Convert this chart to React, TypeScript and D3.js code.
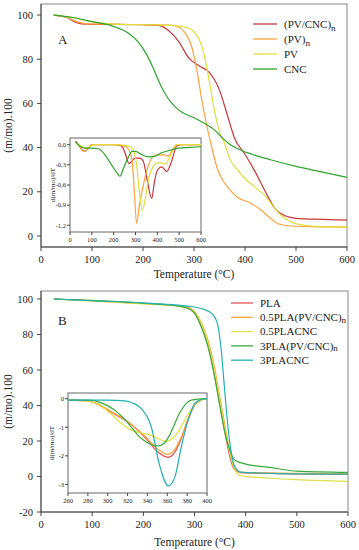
import * as d3 from "d3";

type P = [number, number];

// ---- Panel A: TG curves (temperature °C, residual mass %)
const tgA_PVCNC: P[] = [[25,100],[50,99],[65,97],[80,96],[100,95.8],[150,95.8],[200,95.6],[230,95.3],[250,93],[270,88],[290,80.5],[310,77],[330,74],[350,66],[365,55],[380,44],[400,37],[420,29],[440,20],[460,12],[480,9],[500,8],[550,7.5],[600,7.2]];
const tgA_PVn: P[] = [[25,100],[50,99],[70,97],[90,96],[150,95.8],[250,95.5],[270,94.5],[285,91],[295,86],[305,76],[315,62],[325,50],[335,40],[345,31],[357,25],[370,21],[385,17.5],[410,15],[430,12],[450,8],[465,5.5],[490,4.5],[550,4.1],[600,4]];
const tgA_PV: P[] = [[25,100],[60,99],[100,97],[150,95.8],[200,95.6],[260,95.3],[290,94],[300,92.5],[310,89],[320,82],[330,70],[340,57],[350,47],[360,42],[370,35],[385,30],[400,26],[420,22],[440,18],[455,13.5],[470,9.5],[485,7],[510,5],[550,4.2],[600,4]];
const tgA_CNC: P[] = [[25,100],[60,99],[100,97],[140,95],[170,92],[190,88],[205,83],[220,76],[235,68],[250,62],[265,58],[280,55.5],[300,53.5],[320,51],[340,48],[355,44.5],[370,41.5],[390,39],[420,36.5],[450,34.5],[500,31.5],[550,29],[600,26.5]];

// ---- Panel A inset: DTG
const dtgA_PVCNC: P[] = [[25,0.05],[45,-0.03],[65,-0.1],[85,-0.05],[100,0],[200,0],[237,-0.02],[255,-0.15],[270,-0.28],[285,-0.24],[298,-0.2],[320,-0.2],[336,-0.25],[355,-0.55],[374,-0.8],[387,-0.55],[400,-0.38],[420,-0.33],[443,-0.4],[465,-0.25],[489,-0.02],[520,0],[600,0]];
const dtgA_PVn: P[] = [[25,0.05],[45,-0.03],[65,-0.1],[85,-0.05],[100,0],[200,0],[250,-0.02],[270,-0.08],[283,-0.2],[293,-0.6],[305,-1.17],[318,-0.9],[336,-0.6],[355,-0.35],[374,-0.2],[400,-0.15],[430,-0.15],[450,-0.17],[470,-0.07],[489,0],[600,0]];
const dtgA_PV: P[] = [[25,0.02],[50,-0.02],[70,-0.05],[90,-0.03],[110,0],[200,0],[270,-0.02],[290,-0.08],[305,-0.3],[318,-0.7],[331,-0.98],[345,-0.8],[360,-0.5],[380,-0.33],[400,-0.27],[420,-0.27],[435,-0.29],[455,-0.2],[475,-0.05],[490,0],[600,0]];
const dtgA_CNC: P[] = [[25,0.05],[45,-0.02],[65,-0.05],[100,-0.05],[130,-0.06],[160,-0.15],[190,-0.3],[215,-0.42],[229,-0.47],[245,-0.35],[265,-0.2],[285,-0.1],[300,-0.1],[330,-0.15],[360,-0.18],[390,-0.17],[420,-0.12],[460,-0.08],[500,-0.05],[550,-0.04],[600,-0.03]];

// ---- Panel B: TG curves
const tgB_PLA: P[] = [[25,100],[100,99],[200,97.5],[270,96],[290,94.5],[300,92],[310,87],[320,80],[330,70],[340,56],[350,40],[360,24],[370,10],[378,4],[390,2.2],[450,1.7],[600,1.2]];
const tgB_05PVCNC: P[] = [[25,100],[100,99],[200,97.5],[270,96],[290,95],[300,93],[310,88.5],[320,82],[330,73],[340,60],[350,44],[360,28],[370,13],[380,4.5],[390,2.5],[450,2],[600,1.5]];
const tgB_05CNC: P[] = [[25,100],[100,98.8],[200,97.2],[270,95.8],[290,94.5],[300,92.5],[310,88],[320,81],[330,71],[340,58],[350,42],[360,26],[370,12],[380,3],[390,0.5],[450,-1],[500,-1.8],[600,-2.8]];
const tgB_3PVCNC: P[] = [[25,100],[100,99.2],[200,97.6],[270,96],[290,94.3],[300,92],[310,86.5],[320,79],[330,69],[340,55],[350,39],[360,24],[370,14],[380,9],[400,7],[450,5],[500,3],[600,2.3]];
const tgB_3CNC: P[] = [[25,100],[100,99],[200,97.8],[300,95.5],[320,94],[335,91.5],[345,86],[352,72],[358,52],[364,32],[370,17],[378,6],[390,2.5],[450,1.8],[600,1.3]];

// ---- Panel B inset: DTG
const dtgB_PLA: P[] = [[260,-0.05],[280,-0.08],[290,-0.2],[300,-0.4],[310,-0.6],[320,-0.8],[330,-1.1],[340,-1.45],[350,-1.85],[361,-2.05],[368,-1.85],[374,-1.4],[380,-0.8],[388,-0.2],[395,-0.03],[400,0]];
const dtgB_05PVCNC: P[] = [[260,-0.05],[280,-0.08],[290,-0.18],[300,-0.38],[310,-0.58],[320,-0.8],[330,-1.08],[340,-1.4],[350,-1.75],[360,-1.95],[367,-1.8],[374,-1.35],[381,-0.75],[388,-0.2],[395,-0.03],[400,0]];
const dtgB_05CNC: P[] = [[260,-0.05],[275,-0.07],[287,-0.15],[297,-0.35],[307,-0.65],[315,-0.9],[324,-1.1],[333,-1.2],[341,-1.25],[351,-1.4],[359,-1.5],[365,-1.4],[371,-1.15],[381,-0.55],[391,-0.08],[400,0]];
const dtgB_3PVCNC: P[] = [[260,-0.05],[280,-0.05],[290,-0.1],[300,-0.25],[307,-0.4],[315,-0.65],[324,-1.0],[331,-1.3],[338,-1.5],[345,-1.62],[351,-1.65],[357,-1.55],[362,-1.3],[366,-1.0],[371,-0.6],[376,-0.3],[384,-0.05],[400,0]];
const dtgB_3CNC: P[] = [[260,-0.05],[280,-0.05],[300,-0.05],[315,-0.07],[325,-0.15],[334,-0.35],[344,-1.0],[352,-2.3],[361,-3.05],[368,-2.7],[374,-1.7],[381,-0.75],[388,-0.15],[395,-0.02],[400,0]];

const namesA = ["(PV/CNC)", "(PV)", "PV", "CNC"];
const subA = ["n", "n", "", ""];
const namesB = ["PLA", "0.5PLA(PV/CNC)", "0.5PLACNC", "3PLA(PV/CNC)", "3PLACNC"];
const subB = ["", "n", "", "n", ""];

const xTicks = [0, 100, 200, 300, 400, 500, 600];
const yTicksA = [0, 20, 40, 60, 80, 100];
const yTicksB = [-20, 0, 20, 40, 60, 80, 100];
const insetXTicksA = [0, 100, 200, 300, 400, 500, 600];
const insetYTicksA = [0, -0.3, -0.6, -0.9, -1.2];
const insetXTicksB = [260, 280, 300, 320, 340, 360, 380, 400];
const insetYTicksB = [0, -1, -2, -3];

const colorsA = ["#c8373a", "#ffa23f", "#dede3c", "#2ea42e"];
const colorsB = ["#e05555", "#ffa23f", "#e0e048", "#36ad3c", "#25b0b0"];

const FONT = "'Liberation Serif', 'Times New Roman', serif";

function mkLine(x: d3.ScaleLinear<number, number>, y: d3.ScaleLinear<number, number>) {
  return d3
    .line<P>()
    .x((d) => x(d[0]))
    .y((d) => y(d[1]))
    .curve(d3.curveMonotoneX);
}

function Inset(props: {
  x0: number; x1: number; y0: number; y1: number;
  xDom: [number, number]; yDom: [number, number];
  xt: number[]; yt: number[]; fmt: (v: number) => string;
  series: P[][]; colors: string[]; labelX: number;
}) {
  const { x0, x1, y0, y1, xDom, yDom, xt, yt, fmt, series, colors, labelX } = props;
  const x = d3.scaleLinear().domain(xDom).range([x0, x1]);
  const y = d3.scaleLinear().domain(yDom).range([y1, y0]);
  const line = mkLine(x, y);
  return (
    <g>
      <rect x={x0} y={y0} width={x1 - x0} height={y1 - y0} fill="#fff" stroke="#666" strokeWidth={1} />
      <g>
        {series.map((s, i) => (
          <path key={i} d={line(s) || ""} fill="none" stroke={colors[i]} strokeWidth={1.2} />
        ))}
      </g>
      {xt.map((t) => (
        <g key={"x" + t}>
          <line x1={x(t)} x2={x(t)} y1={y1} y2={y1 + 3} stroke="#444" />
          <text x={x(t)} y={y1 + 10} fontSize={6.5} textAnchor="middle" fontFamily={FONT} fill="#222">{t}</text>
        </g>
      ))}
      {yt.map((t) => (
        <g key={"y" + t}>
          <line x1={x0 - 3} x2={x0} y1={y(t)} y2={y(t)} stroke="#444" />
          <text x={x0 - 4} y={y(t) + 2.3} fontSize={6.5} textAnchor="end" fontFamily={FONT} fill="#222">{fmt(t)}</text>
        </g>
      ))}
      <text
        transform={`translate(${labelX},${(y0 + y1) / 2}) rotate(-90)`}
        fontSize={7}
        textAnchor="middle"
        fontFamily={FONT}
        fill="#222"
      >
        d(m/mo)/dT
      </text>
    </g>
  );
}

function Panel(props: {
  top: number; bottom: number; left: number; right: number;
  yDom: [number, number]; yt: number[]; series: P[][]; colors: string[];
  letter: string; letterY: number;
  names: string[]; subs: string[]; legX: number; legY: number; legStep: number; legLen: number; subDy: number;
  xLabY: number; titleY: number; children?: any;
}) {
  const p = props;
  const x = d3.scaleLinear().domain([0, 600]).range([p.left, p.right]);
  const y = d3.scaleLinear().domain(p.yDom).range([p.bottom, p.top]);
  const line = mkLine(x, y);
  return (
    <g>
      <rect x={p.left} y={p.top} width={p.right - p.left} height={p.bottom - p.top} fill="none" stroke="#888" strokeWidth={1} />
      <line x1={p.left} x2={p.left} y1={p.top} y2={p.bottom} stroke="#444" />
      <line x1={p.left} x2={p.right} y1={p.bottom} y2={p.bottom} stroke="#444" />
      {p.series.map((s, i) => (
        <path key={i} d={line(s) || ""} fill="none" stroke={p.colors[i]} strokeWidth={1.2} />
      ))}
      {xTicks.map((t) => (
        <g key={"x" + t}>
          <line x1={x(t)} x2={x(t)} y1={p.bottom} y2={p.bottom + 4} stroke="#444" />
          <text x={x(t)} y={p.xLabY} fontSize={10.5} textAnchor="middle" fontFamily={FONT} fill="#222">{t}</text>
        </g>
      ))}
      {p.yt.map((t) => (
        <g key={"y" + t}>
          <line x1={p.left - 4} x2={p.left} y1={y(t)} y2={y(t)} stroke="#444" />
          <text x={p.left - 8} y={y(t) + 3.6} fontSize={10.5} textAnchor="end" fontFamily={FONT} fill="#222">{t}</text>
        </g>
      ))}
      <text x={(p.left + p.right) / 2} y={p.titleY} fontSize={11.5} textAnchor="middle" fontFamily={FONT} fill="#222">
        Temperature (°C)
      </text>
      <text
        transform={`translate(${12},${(p.top + p.bottom) / 2}) rotate(-90)`}
        fontSize={11.5}
        textAnchor="middle"
        fontFamily={FONT}
        fill="#222"
      >
        (m/mo).100
      </text>
      <text x={58} y={p.letterY} fontSize={13} fontFamily={FONT} fill="#222">{p.letter}</text>
      {p.names.map((n, i) => (
        <g key={n}>
          <line
            x1={p.legX}
            x2={p.legX + p.legLen}
            y1={p.legY + i * p.legStep}
            y2={p.legY + i * p.legStep}
            stroke={p.colors[i]}
            strokeWidth={1.3}
          />
          <text x={p.legX + p.legLen + 7} y={p.legY + i * p.legStep + 3.8} fontSize={11} fontFamily={FONT} fill="#222">
            {n}
            {p.subs[i] ? (
              <tspan dy={p.subDy} fontSize={9}>{p.subs[i]}</tspan>
            ) : null}
          </text>
        </g>
      ))}
      {p.children}
    </g>
  );
}

export default function App() {
  const comma = (v: number) => (v === 0 ? "0,0" : v.toFixed(1).replace(".", ","));
  return (
    <div style={{ position: "fixed", left: 0, top: 0, background: "#fff" }}>
      <svg width={359} height={550} style={{ display: "block" }}>
        <rect width={359} height={550} fill="#fff" />
        <Panel
          top={4} bottom={247} left={41} right={347}
          yDom={[-5, 105]} yt={yTicksA}
          series={[tgA_PVCNC, tgA_PVn, tgA_PV, tgA_CNC]} colors={colorsA}
          letter="A" letterY={44}
          names={namesA} subs={subA} legX={253} legY={24} legStep={15} legLen={24} subDy={3}
          xLabY={263} titleY={278}
        >
          <Inset
            x0={70} x1={201} y0={138} y1={232}
            xDom={[0, 600]} yDom={[-1.3, 0.1]}
            xt={insetXTicksA} yt={insetYTicksA} fmt={comma}
            series={[dtgA_PVCNC, dtgA_PVn, dtgA_PV, dtgA_CNC]} colors={colorsA}
            labelX={55}
          />
        </Panel>
        <Panel
          top={291} bottom={512} left={41} right={348}
          yDom={[-20, 104.5]} yt={yTicksB}
          series={[tgB_PLA, tgB_05PVCNC, tgB_05CNC, tgB_3PVCNC, tgB_3CNC]} colors={colorsB}
          letter="B" letterY={325}
          names={namesB} subs={subB} legX={231} legY={303} legStep={14.3} legLen={22} subDy={1.5}
          xLabY={528} titleY={546}
        >
          <Inset
            x0={68} x1={207} y0={393} y1={493}
            xDom={[260, 400]} yDom={[-3.3, 0.2]}
            xt={insetXTicksB} yt={insetYTicksB} fmt={(v) => String(v)}
            series={[dtgB_PLA, dtgB_05PVCNC, dtgB_05CNC, dtgB_3PVCNC, dtgB_3CNC]} colors={colorsB}
            labelX={54}
          />
        </Panel>
      </svg>
    </div>
  );
}
